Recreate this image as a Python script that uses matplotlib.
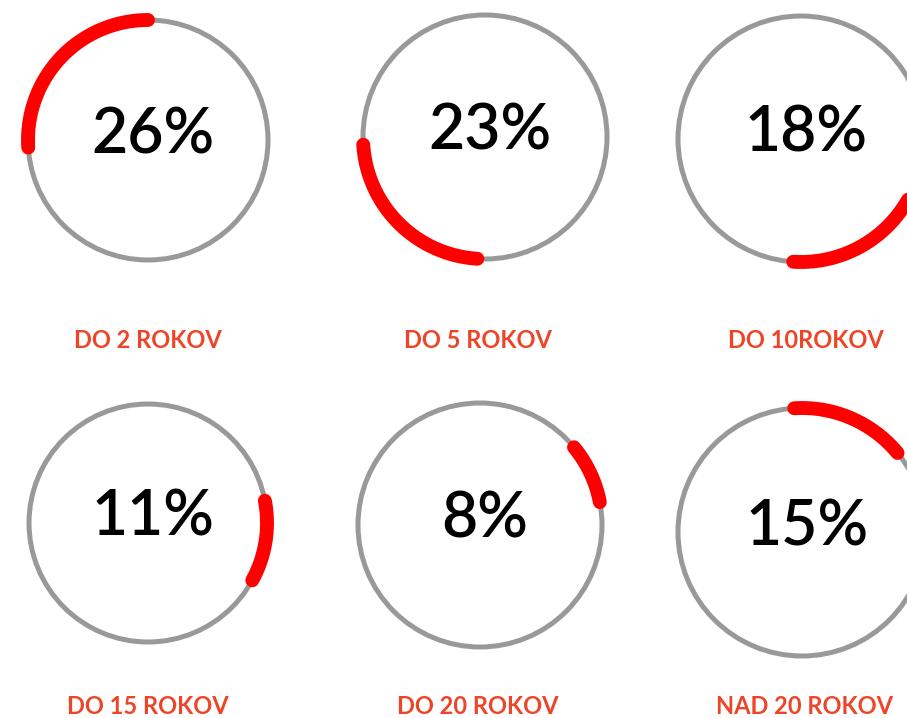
import numpy as np
import matplotlib.pyplot as plt
from matplotlib.patches import Circle

# data
labels = ['DO 2 ROKOV', 'DO 5 ROKOV', 'DO 10ROKOV',
          'DO 15 ROKOV', 'DO 20 ROKOV', 'NAD 20 ROKOV']
values = [26, 23, 18, 11, 8, 15]

# layout (pixel coords, y down)
centers_x = [148, 485, 801, 148, 480, 802]
centers_y = [140, 137, 139, 523, 525, 532]
radii = [120, 122, 123, 119, 122, 124]
label_x = [148, 478, 806, 148, 478, 804]
label_y = [340, 340, 340, 706, 706, 706]

W, H = 907, 718
fig = plt.figure(figsize=(W / 100, H / 100), dpi=100)
ax = fig.add_axes([0, 0, 1, 1])
ax.set_xlim(0, W)
ax.set_ylim(H, 0)
ax.set_aspect('equal')
ax.axis('off')

font = ['Lato', 'DejaVu Sans']

start = 0
for i in range(len(values)):
    cx, cy, r = centers_x[i], centers_y[i], radii[i]
    ax.add_patch(Circle((cx, cy), r, fill=False, edgecolor='#999999', lw=3.6))

    # red arc continues where the previous one stopped (counterclockwise from top)
    a1 = np.deg2rad(90 + 3.6 * start)
    a2 = np.deg2rad(90 + 3.6 * (start + values[i]))
    t = np.linspace(a1, a2, 200)
    ax.plot(cx + r * np.cos(t), cy - r * np.sin(t), color='#ff0000', lw=10,
            solid_capstyle='round')
    start += values[i]

    ax.text(cx + 5, cy - 5, '%d%%' % values[i], ha='center', va='center',
            fontsize=45, fontweight='semibold', color='black', family=font)
    ax.text(label_x[i], label_y[i], labels[i], ha='center', va='center',
            fontsize=17, fontweight='bold', color='#ee4428', family=font)

plt.savefig('out.png', dpi=100)
